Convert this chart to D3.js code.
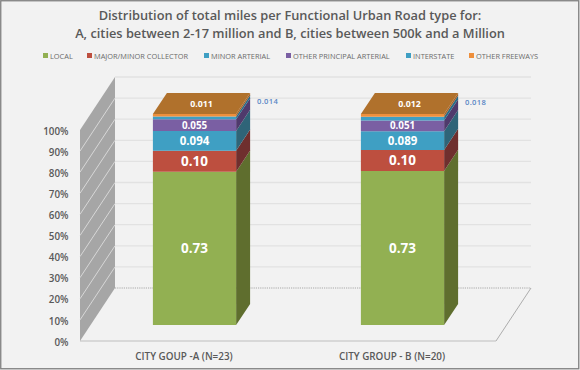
<!DOCTYPE html>
<html><head><meta charset="utf-8">
<script src="https://cdn.jsdelivr.net/npm/d3@7"></script>
<style>html,body{margin:0;padding:0;background:#f2f2f2}svg{display:block}text{font-family:"Open Sans",sans-serif}</style>
</head><body><svg id="c" width="580" height="370"></svg>
<script>
const titleLines = ["Distribution of total miles per Functional Urban Road type for:","A, cities between 2-17 million and B, cities between 500k and a Million"];
const categories = ["CITY GOUP -A (N=23)","CITY GROUP - B (N=20)"];
const seriesNames = ["LOCAL","MAJOR/MINOR COLLECTOR","MINOR ARTERIAL","OTHER PRINCIPAL ARTERIAL","INTERSTATE","OTHER FREEWAYS"];
const local = [0.73,0.73];
const collector = [0.10,0.10];
const minorArterial = [0.094,0.089];
const principalArterial = [0.055,0.051];
const interstate = [0.014,0.018];
const freeways = [0.011,0.012];
const labelText = [["0.73","0.10","0.094","0.055","0.014","0.011"],["0.73","0.10","0.089","0.051","0.018","0.012"]];
const yTicks = [0,.1,.2,.3,.4,.5,.6,.7,.8,.9,1];

const seriesValues = [local,collector,minorArterial,principalArterial,interstate,freeways];
const front = ["#92b052","#bd4f3f","#3f9fc3","#7a5fa3","#3f9fc3","#ee8f3c"];
const side  = ["#5f6e2e","#6f2f2e","#2f6478","#4f3a6c","#2a6c88","#a8642a"];
const topFace = "#b0712c";
const legendX = [43,87,204,286,406,469];

const svg = d3.select("#c");
const W=580,H=370;
const x = d3.scaleBand().domain(categories).range([80,496]).paddingInner(.6).paddingOuter(.3);
const y = d3.scaleLinear().domain([0,1]).range([341,130]);
const dz = d3.scaleLinear().domain([0,1]).range([0,35]);   // horizontal shift with depth
const dzy = d3.scaleLinear().domain([0,1]).range([0,-53]); // vertical shift with depth
const pt=(px,v,z)=>[px+dz(z),y(v)+dzy(z)];
const poly=(pts,fill)=>svg.append("polygon").attr("points",pts.map(d=>d.join(",")).join(" ")).attr("fill",fill);

svg.append("rect").attr("width",W).attr("height",H).attr("fill","#f2f2f2");

// title
svg.append("g").selectAll("text").data(titleLines).join("text")
  .attr("x",290).attr("y",(d,i)=>20+i*17.5).attr("text-anchor","middle")
  .attr("font-size",12.8).attr("font-weight",600).attr("fill","#595959").text(d=>d);

// legend
const lg = svg.append("g").selectAll("g").data(seriesNames).join("g");
lg.append("rect").attr("x",(d,i)=>legendX[i]).attr("y",53).attr("width",5).attr("height",5).attr("fill",(d,i)=>front[i]);
lg.append("text").attr("x",(d,i)=>legendX[i]+7).attr("y",58.5).attr("font-size",7.4).attr("fill","#6b6b6b").text(d=>d);

// back-wall gridlines
const x0=x.range()[0], x1=x.range()[1];
svg.append("g").selectAll("line").data(yTicks.slice(1)).join("line")
  .attr("x1",pt(x0,0,1)[0]).attr("x2",pt(x1,0,1)[0])
  .attr("y1",d=>pt(x0,d,1)[1]).attr("y2",d=>pt(x0,d,1)[1])
  .attr("stroke","#e2e2e2").attr("stroke-width",1.3);

// floor
svg.append("line").attr("x1",pt(x0,0,1)[0]).attr("x2",pt(x1,0,1)[0]).attr("y1",pt(x0,0,1)[1]).attr("y2",pt(x0,0,1)[1])
  .attr("stroke","#a8a8a8").attr("stroke-width",1).attr("stroke-dasharray","1.2 1");
svg.append("line").attr("x1",pt(x1,0,0)[0]).attr("y1",pt(x1,0,0)[1]).attr("x2",pt(x1,0,1)[0]).attr("y2",pt(x1,0,1)[1]).attr("stroke","#9a9a9a").attr("stroke-width",.8);
svg.append("line").attr("x1",x0).attr("x2",x1).attr("y1",y(0)).attr("y2",y(0)).attr("stroke","#bdbdbd").attr("stroke-width",1.2);

// side wall
poly([pt(x0,0,0),pt(x0,1,0),pt(x0,1,1),pt(x0,0,1)],"#a6a6a6");
svg.append("g").selectAll("line").data(yTicks.slice(1,-1)).join("line")
  .attr("x1",pt(x0,0,0)[0]).attr("y1",d=>pt(x0,d,0)[1]).attr("x2",pt(x0,0,1)[0]).attr("y2",d=>pt(x0,d,1)[1])
  .attr("stroke","#dcdcdc").attr("stroke-width",.9);

// y axis
const axis = svg.append("g").attr("transform","translate(68.5,1)")
  .call(d3.axisLeft(y).tickValues(yTicks).tickFormat(d3.format(".0%")).tickSize(0).tickPadding(0));
axis.select(".domain").remove();
axis.selectAll("text").attr("font-size",9.8).attr("fill","#595959").attr("font-family",'"Open Sans",sans-serif').attr("font-weight",600);

// x labels
svg.append("g").selectAll("text").data(categories).join("text")
  .attr("x",d=>x(d)+x.bandwidth()/2).attr("y",360).attr("text-anchor","middle")
  .attr("font-size",9.9).attr("font-weight",600).attr("fill","#595959").text(d=>d);

// bars: 100% stack, sitting between depth .3 and .7
const zA=.3,zB=.7;
categories.forEach((c,ci)=>{
  const total=d3.sum(seriesValues,s=>s[ci]);
  const l=x(c), r=l+x.bandwidth();
  let acc=0;
  const mids=[];
  seriesValues.forEach((s,si)=>{
    const a=acc/total, b=(acc+s[ci])/total; acc+=s[ci];
    poly([pt(r,a,zA),pt(r,b,zA),pt(r,b,zB),pt(r,a,zB)],side[si]);
    poly([pt(l,a,zA),pt(r,a,zA),pt(r,b,zA),pt(l,b,zA)],front[si]);
    mids.push((a+b)/2);
  });
  poly([pt(l,1,zA),pt(r,1,zA),pt(r,1,zB),pt(l,1,zB)],topFace);
  const cx=pt((l+r)/2,0,zA)[0];
  const sizes=[13.5,13.5,11.5,9.8];
  [0,1,2,3].forEach(si=>{
    svg.append("text").attr("x",cx).attr("y",pt(l,mids[si],zA)[1]).attr("dy",".36em").attr("text-anchor","middle")
      .attr("font-size",sizes[si]).attr("font-weight",700).attr("fill","#fff").text(labelText[ci][si]);
  });
  // orange value sits on the top face
  const tf=pt((l+r)/2,1,(zA+zB)/2);
  svg.append("text").attr("x",tf[0]).attr("y",tf[1]+ci*.8).attr("dy",".36em").attr("text-anchor","middle")
    .attr("font-size",8.8).attr("font-weight",700).attr("fill","#fff").text(labelText[ci][5]);
  // interstate value sits to the right
  const rt=pt(r,1,zB);
  svg.append("text").attr("x",rt[0]+7).attr("y",rt[1]+8+ci*1.5).attr("dy",".36em")
    .attr("font-size",7.6).attr("font-weight",600).attr("fill","#5b87c5").attr("letter-spacing",.3).text(labelText[ci][4]);
});

// frame
svg.append("rect").attr("x",.75).attr("y",.75).attr("width",W-2).attr("height",H-2).attr("fill","none").attr("stroke","#7f7f7f").attr("stroke-width",1.3);
</script></body></html>
